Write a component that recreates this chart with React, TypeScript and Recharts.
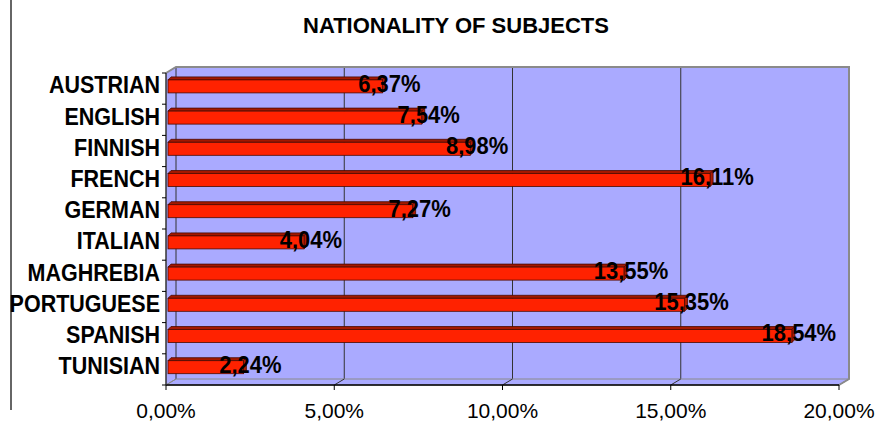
import React from "react";
import { BarChart, Bar, XAxis, YAxis, CartesianGrid, LabelList, Customized } from "recharts";

const CATEGORIES = ["AUSTRIAN", "ENGLISH", "FINNISH", "FRENCH", "GERMAN", "ITALIAN", "MAGHREBIA", "PORTUGUESE", "SPANISH", "TUNISIAN"];
const SHARES = [6.37, 7.54, 8.98, 16.11, 7.27, 4.04, 13.55, 15.35, 18.54, 2.24];
const X_TICKS = [0, 5, 10, 15, 20];
const TITLE = "NATIONALITY OF SUBJECTS";

const data = CATEGORIES.map((name, i) => ({ name, share: SHARES[i] }));

const W = 880;
const H = 426;
const MARGIN = { top: 67, right: 31, bottom: 0, left: 6 };
const Y_WIDTH = 160;
const X_HEIGHT = 41;
// 3d depth of the walls
const DX = 10;
const DY = 6;
const FONT = "'Liberation Sans', Arial, sans-serif";
const WALL = "#aaaaff";
const EDGE = "#8a8a8a";
const STRETCH = 1.08;

const plotLeft = MARGIN.left + Y_WIDTH;
const plotRight = W - MARGIN.right;
const plotTop = MARGIN.top;
const plotBottom = H - MARGIN.bottom - X_HEIGHT;

const fmt = (v: number) => v.toFixed(2).replace(".", ",") + "%";
const xFront = (v: number) => plotLeft + (v / 20) * (plotRight - DX - plotLeft);

function Decor() {
  return (
    <g>
      {/* white corners outside the 3d box */}
      <polygon points={`${plotLeft},${plotTop - 1} ${plotLeft + DX},${plotTop - 1} ${plotLeft},${plotTop + DY}`} fill="#fff" />
      <polygon points={`${plotRight + 1},${plotBottom} ${plotRight + 1},${plotBottom - DY} ${plotRight - DX},${plotBottom}`} fill="#fff" />
      {/* floor */}
      <polygon
        points={`${plotLeft},${plotBottom} ${plotLeft + DX},${plotBottom - DY} ${plotRight},${plotBottom - DY} ${plotRight - DX},${plotBottom}`}
        fill={WALL}
        stroke={EDGE}
        strokeWidth={1}
      />
      {/* wall edges */}
      <polyline
        points={`${plotLeft},${plotTop + DY} ${plotLeft + DX},${plotTop} ${plotRight},${plotTop} ${plotRight},${plotBottom - DY} ${plotRight - DX},${plotBottom}`}
        fill="none"
        stroke={EDGE}
        strokeWidth={2}
      />
      {X_TICKS.map((t) => (
        <line key={t} x1={xFront(t)} y1={plotBottom} x2={xFront(t) + DX} y2={plotBottom - DY} stroke={t === 0 || t === 20 ? EDGE : "#333"} strokeWidth={1} />
      ))}
      {/* front axes */}
      <line x1={plotLeft} y1={plotBottom} x2={plotRight - DX} y2={plotBottom} stroke="#000" strokeWidth={1.5} />
      <line x1={plotLeft} y1={plotTop + DY} x2={plotLeft} y2={plotBottom} stroke="#333" strokeWidth={1.5} />
      {/* left border line */}
      <line x1={11} y1={0} x2={11} y2={410} stroke="#333" strokeWidth={1.5} />
      <text x={456} y={25} textAnchor="middle" dominantBaseline="central" fontFamily={FONT} fontWeight="bold" fontSize={22} fill="#000">
        {TITLE}
      </text>
    </g>
  );
}

function CategoryTick(props: any) {
  const { y, payload, index } = props;
  const half = payload && payload.offset ? payload.offset : 15.6;
  return (
    <g>
      <line x1={plotLeft - 4} y1={y - half} x2={plotLeft} y2={y - half} stroke="#000" />
      {index === CATEGORIES.length - 1 && <line x1={plotLeft - 4} y1={y + half} x2={plotLeft} y2={y + half} stroke="#000" />}
      <text
        transform={`translate(${plotLeft - 6},${y - 3}) scale(1,${STRETCH})`}
        textAnchor="end"
        dominantBaseline="central"
        fontFamily={FONT}
        fontWeight="bold"
        fontSize={21.5}
        fill="#000"
      >
        {payload.value}
      </text>
    </g>
  );
}

function Bar3D(props: any) {
  const { x, y, width, height } = props;
  const c = y + height / 2;
  const ft = c - 8.6;
  const fh = 13;
  const x0 = x + 2;
  const x1 = x + width + 2;
  const d = 3;
  return (
    <g>
      <polygon points={`${x0},${ft} ${x0 + d},${ft - d} ${x1 + d},${ft - d} ${x1},${ft}`} fill="#a31800" stroke="#4a0a00" strokeWidth={0.8} />
      <polygon points={`${x1},${ft} ${x1 + d},${ft - d} ${x1 + d},${ft + fh - d} ${x1},${ft + fh}`} fill="#b01a00" stroke="#4a0a00" strokeWidth={0.8} />
      <rect x={x0} y={ft} width={width} height={fh} fill="#ff2200" stroke="#4a0a00" strokeWidth={0.8} />
    </g>
  );
}

function ValueLabel(props: any) {
  const { x, y, width, height, value } = props;
  return (
    <text
      transform={`translate(${x + width + 9},${y + height / 2 - 5}) scale(1,${STRETCH})`}
      textAnchor="middle"
      dominantBaseline="central"
      fontFamily={FONT}
      fontWeight="bold"
      fontSize={22}
      fill="#000"
    >
      {fmt(value)}
    </text>
  );
}

export default function App() {
  return (
    <div style={{ position: "absolute", left: 0, top: 0, width: W, height: H, background: "#fff" }}>
      <BarChart width={W} height={H} data={data} layout="vertical" margin={MARGIN}>
        <CartesianGrid
          horizontal={false}
          fill={WALL}
          verticalPoints={X_TICKS.map((t) => xFront(t) + DX)}
          stroke="#333"
          strokeWidth={1}
        />
        <XAxis
          type="number"
          domain={[0, 20]}
          ticks={X_TICKS}
          height={X_HEIGHT}
          padding={{ left: 0, right: DX }}
          axisLine={false}
          tickSize={5}
          tickLine={{ stroke: "#000" }}
          tickMargin={13}
          tickFormatter={fmt}
          tick={{ fontFamily: FONT, fontSize: 21, fill: "#000" }}
          interval={0}
        />
        <YAxis
          type="category"
          dataKey="name"
          width={Y_WIDTH}
          padding={{ top: DY, bottom: 0 }}
          axisLine={false}
          tickLine={false}
          tick={<CategoryTick />}
          interval={0}
        />
        <Customized component={Decor} />
        <Bar dataKey="share" barSize={13} shape={<Bar3D />} isAnimationActive={false}>
          <LabelList dataKey="share" content={<ValueLabel />} />
        </Bar>
      </BarChart>
    </div>
  );
}
